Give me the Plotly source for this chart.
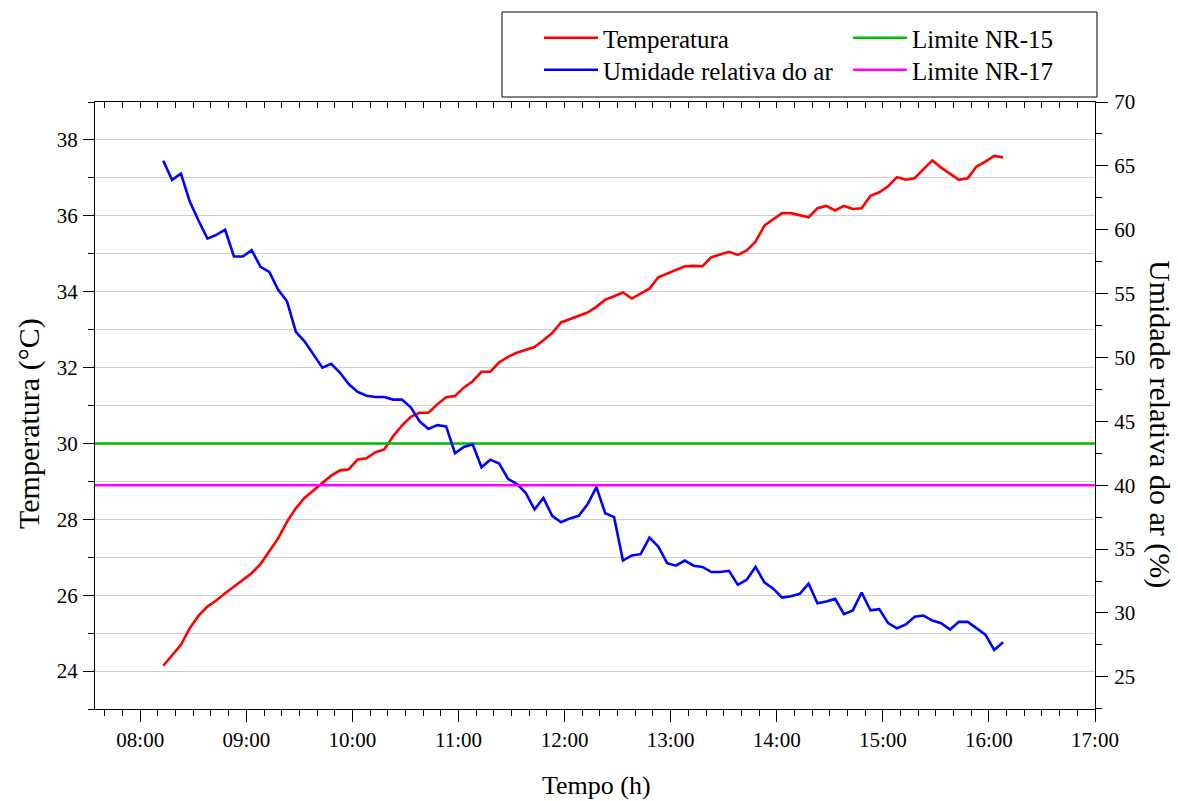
import pandas as pd
import plotly.graph_objects as go

# ---------------- data ----------------
start_time = "2024-01-01 08:13"
n_points = 96
step = "5min"

temperatura = [
    24.14, 24.43, 24.69, 25.13, 25.46, 25.70, 25.86, 26.05, 26.23, 26.40,
    26.58, 26.82, 27.15, 27.50, 27.94, 28.29, 28.57, 28.76, 28.97, 29.15,
    29.29, 29.32, 29.58, 29.61, 29.77, 29.84, 30.19, 30.47, 30.70, 30.81,
    30.81, 31.03, 31.22, 31.25, 31.47, 31.64, 31.89, 31.89, 32.14, 32.28,
    32.39, 32.46, 32.54, 32.72, 32.91, 33.19, 33.28, 33.37, 33.45, 33.60,
    33.79, 33.88, 33.98, 33.82, 33.95, 34.08, 34.38, 34.47, 34.58, 34.67,
    34.68, 34.67, 34.91, 34.98, 35.05, 34.97, 35.09, 35.32, 35.74, 35.91,
    36.07, 36.07, 36.01, 35.96, 36.20, 36.26, 36.14, 36.26, 36.18, 36.20,
    36.53, 36.62, 36.78, 37.02, 36.95, 36.99, 37.23, 37.46, 37.27, 37.10,
    36.95, 36.99, 37.30, 37.43, 37.58, 37.54,
]

umidade = [
    65.4, 63.9, 64.4, 62.2, 60.7, 59.3, 59.6, 60.0, 57.9, 57.9,
    58.4, 57.1, 56.7, 55.3, 54.4, 52.0, 51.25, 50.2, 49.2, 49.5,
    48.8, 47.9, 47.3, 47.0, 46.9, 46.9, 46.7, 46.7, 46.1, 45.0,
    44.4, 44.7, 44.6, 42.5, 43.0, 43.2, 41.4, 42.0, 41.7, 40.5,
    40.1, 39.4, 38.1, 39.0, 37.6, 37.1, 37.4, 37.6, 38.5, 39.85,
    37.8, 37.5, 34.1, 34.5, 34.6, 35.9, 35.2, 33.9, 33.7, 34.1,
    33.7, 33.6, 33.2, 33.2, 33.3, 32.2, 32.6, 33.6, 32.4, 31.9,
    31.2, 31.3, 31.5, 32.3, 30.75, 30.9, 31.1, 29.9, 30.2, 31.6,
    30.2, 30.3, 29.2, 28.8, 29.1, 29.7, 29.8, 29.4, 29.2, 28.7,
    29.3, 29.3, 28.8, 28.3, 27.1, 27.7,
]

limite_nr15 = 30   # °C (left axis)
limite_nr17 = 40   # % (right axis)

x_range = ["2024-01-01 07:34:24", "2024-01-01 17:00:00"]
y_range = [23, 39]
y2_range = [22.48, 70]

tempo = pd.date_range(start_time, periods=n_points, freq=step)

# ---------------- figure ----------------
FONT = "Liberation Serif"
RED, BLUE, GREEN, MAGENTA = "#ff0000", "#0000ff", "#00bb00", "#ff00ff"
GRID = "#cfcfcf"

W, H = 1178, 801
ML, MR, MT, MB = 95, 83, 102, 92
PW, PH = W - ML - MR, H - MT - MB


def px(x):
    return (x - ML) / PW


def py(y):
    return (H - MB - y) / PH


fig = go.Figure()

fig.add_trace(go.Scatter(x=tempo, y=temperatura, mode="lines", name="Temperatura",
                         line=dict(color=RED, width=2.6), legend="legend"))
fig.add_trace(go.Scatter(x=tempo, y=umidade, mode="lines", name="Umidade relativa do ar",
                         line=dict(color=BLUE, width=2.6), yaxis="y2", legend="legend2"))
fig.add_trace(go.Scatter(x=x_range, y=[limite_nr15, limite_nr15], mode="lines",
                         name="Limite NR-15", line=dict(color=GREEN, width=2.6),
                         legend="legend3"))
fig.add_trace(go.Scatter(x=x_range, y=[limite_nr17, limite_nr17], mode="lines",
                         name="Limite NR-17", line=dict(color=MAGENTA, width=2.6),
                         yaxis="y2", legend="legend4"))
# dummy trace for top (mirror) axis
fig.add_trace(go.Scatter(x=x_range, y=[None, None], xaxis="x2", showlegend=False,
                         hoverinfo="skip"))

tick_font = dict(family=FONT, size=21, color="black")
leg_font = dict(family=FONT, size=25, color="black")


def leg(xp, yp):
    return dict(x=px(xp), y=py(yp), xanchor="left", yanchor="middle",
                orientation="v", bgcolor="rgba(0,0,0,0)", borderwidth=0,
                font=leg_font, itemwidth=54)


fig.update_layout(
    width=W, height=H,
    margin=dict(l=ML, r=MR, t=MT, b=MB),
    paper_bgcolor="white", plot_bgcolor="white",
    font=dict(family=FONT, color="black"),
    xaxis=dict(
        type="date", range=x_range, tickformat="%H:%M",
        tick0="2024-01-01 08:00", dtick=3600000,
        ticks="outside", ticklen=12, tickwidth=1, tickcolor="black",
        minor=dict(dtick=600000, tick0="2024-01-01 08:00", ticks="outside",
                   ticklen=6, tickcolor="black", showgrid=False),
        showgrid=False, zeroline=False, automargin=False,
        showline=True, linecolor="black", linewidth=1,
        tickfont=tick_font, ticklabelstandoff=0,
    ),
    xaxis2=dict(
        type="date", range=x_range, overlaying="x", side="top", anchor="y",
        tick0="2024-01-01 08:00", dtick=600000,
        ticks="inside", ticklen=6, tickcolor="black", automargin=False,
        showticklabels=False, showgrid=False, zeroline=False,
        showline=True, linecolor="black", linewidth=1,
    ),
    yaxis=dict(
        range=y_range, tick0=0, dtick=2,
        ticks="outside", ticklen=11, tickcolor="black",
        minor=dict(dtick=1, tick0=0, ticks="outside", ticklen=6, tickcolor="black",
                   showgrid=True, gridcolor=GRID, gridwidth=1),
        showgrid=True, gridcolor=GRID, gridwidth=1, zeroline=False, automargin=False,
        showline=True, linecolor="black", linewidth=1,
        tickfont=tick_font, ticklabelstandoff=1,
    ),
    yaxis2=dict(
        range=y2_range, overlaying="y", side="right", anchor="x",
        tick0=0, dtick=5,
        ticks="outside", ticklen=12, tickcolor="black",
        minor=dict(dtick=2.5, tick0=0, ticks="outside", ticklen=6, tickcolor="black",
                   showgrid=False),
        showgrid=False, zeroline=False, automargin=False,
        showline=True, linecolor="black", linewidth=1,
        tickfont=tick_font, ticklabelstandoff=2,
    ),
    legend=leg(539, 38),
    legend2=leg(539, 70),
    legend3=leg(848, 38),
    legend4=leg(848, 70),
    showlegend=True,
    shapes=[dict(type="rect", xref="paper", yref="paper",
                 x0=px(502), x1=px(1097), y0=py(97), y1=py(12),
                 line=dict(color="black", width=1), fillcolor="white", layer="below")],
    annotations=[
        dict(text="Tempo (h)", xref="paper", yref="paper", x=px(596), y=py(785),
             xanchor="center", yanchor="middle", showarrow=False,
             font=dict(family=FONT, size=26, color="black")),
        dict(text="Temperatura (°C)", xref="paper", yref="paper", x=px(29), y=py(424),
             xanchor="center", yanchor="middle", showarrow=False, textangle=-90,
             font=dict(family=FONT, size=30, color="black")),
        dict(text="Umidade relativa do ar (%)", xref="paper", yref="paper", x=px(1160),
             y=py(424), xanchor="center", yanchor="middle", showarrow=False, textangle=90,
             font=dict(family=FONT, size=30, color="black")),
    ],
)

fig.write_html("out.html")
